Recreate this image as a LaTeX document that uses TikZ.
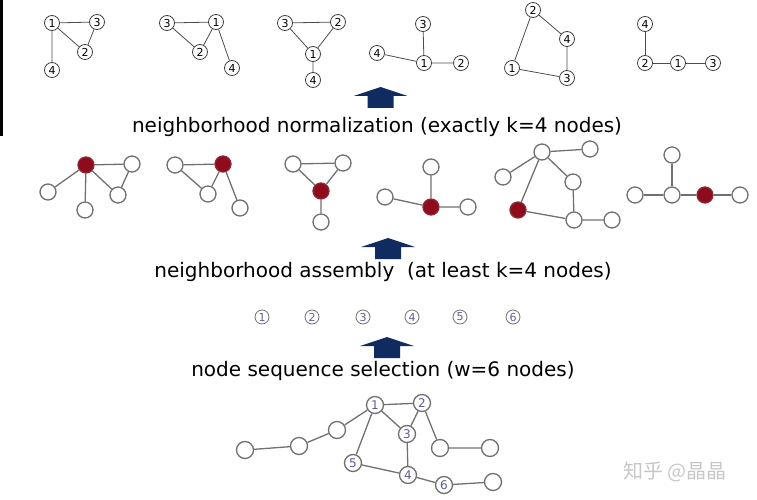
\documentclass[tikz,border=0pt]{standalone}
\usepackage{fontspec}
\setmainfont{DejaVu Sans}
\newfontfamily\cjkfont{Noto Sans CJK SC}
\definecolor{edgegray}{HTML}{707070}
\definecolor{nodered}{HTML}{8E0B1C}
\definecolor{arrowblue}{HTML}{0F2B5F}
\definecolor{digitblue}{HTML}{5E5E96}
% big upward arrow, tip at (#1,#2)
\newcommand\bigarrow[2]{%
  \fill[arrowblue] (#1,#2) -- ++(27,9) -- ++(-14,0) -- ++(0,12)
    -- ++(-26,0) -- ++(0,-12) -- ++(-14,0) -- cycle;}
\begin{document}
\begin{tikzpicture}[x=1pt,y=-1pt,
    numnode/.style={circle,draw=black!75,line width=0.8pt,minimum size=15pt,
      inner sep=0pt,fill=white,font=\fontsize{11}{11}\selectfont},
    topedge/.style={draw=black!70,line width=0.8pt},
    plainnode/.style={circle,draw=edgegray,line width=1.3pt,minimum size=16pt,
      inner sep=0pt,fill=white},
    rednode/.style={plainnode,fill=nodered,draw=nodered!75!gray},
    midedge/.style={draw=edgegray,line width=1.3pt},
    seqnode/.style={circle,draw=edgegray,line width=0.8pt,minimum size=14pt,
      inner sep=0pt,text=digitblue,font=\fontsize{11}{11}\selectfont},
    botnode/.style={plainnode,minimum size=17pt,text=digitblue,
      font=\fontsize{12}{12}\selectfont},
    caption/.style={font=\fontsize{20}{20}\selectfont}]
  \useasboundingbox (0,0) rectangle (757,500);
  \fill[black] (0,0) rectangle (3,136);

  % normalized neighborhoods
  \node[numnode] (a1) at (52,23) {1};
  \node[numnode] (a3) at (97,22) {3};
  \node[numnode] (a2) at (85,52) {2};
  \node[numnode] (a4) at (52,70) {4};
  \draw[topedge] (a1) -- (a3) (a1) -- (a2) (a2) -- (a3) (a1) -- (a4);

  \node[numnode] (b3) at (167,23) {3};
  \node[numnode] (b1) at (216,22) {1};
  \node[numnode] (b2) at (200,52) {2};
  \node[numnode] (b4) at (232,68) {4};
  \draw[topedge] (b3) -- (b1) (b3) -- (b2) (b2) -- (b1) (b1) -- (b4);

  \node[numnode] (c3) at (285,23) {3};
  \node[numnode] (c2) at (338,22) {2};
  \node[numnode] (c1) at (313,54) {1};
  \node[numnode] (c4) at (313,80) {4};
  \draw[topedge] (c3) -- (c2) (c3) -- (c1) (c2) -- (c1) (c1) -- (c4);

  \node[numnode] (d3) at (423,24) {3};
  \node[numnode] (d4) at (377,53) {4};
  \node[numnode] (d1) at (424,63) {1};
  \node[numnode] (d2) at (461,63) {2};
  \draw[topedge] (d3) -- (d1) (d4) -- (d1) (d1) -- (d2);

  \node[numnode] (e2) at (533,10) {2};
  \node[numnode] (e4) at (567,39) {4};
  \node[numnode] (e1) at (512,68) {1};
  \node[numnode] (e3) at (567,78) {3};
  \draw[topedge] (e2) -- (e1) (e2) -- (e4) (e4) -- (e3) (e1) -- (e3);

  \node[numnode] (f4) at (645,24) {4};
  \node[numnode] (f2) at (645,63) {2};
  \node[numnode] (f1) at (678,63) {1};
  \node[numnode] (f3) at (713,63) {3};
  \draw[topedge] (f4) -- (f2) (f2) -- (f1) (f1) -- (f3);

  \bigarrow{380.5}{87}
  \node[caption] (norm) at (377,127) {neighborhood normalization (exactly k=4 nodes)};

  % assembled neighborhoods
  \node[rednode]   (ga-r) at (86,165) {};
  \node[plainnode] (ga-1) at (132,164) {};
  \node[plainnode] (ga-2) at (48,192) {};
  \node[plainnode] (ga-3) at (85,210) {};
  \node[plainnode] (ga-4) at (118,195) {};
  \draw[midedge] (ga-r) -- (ga-1) (ga-r) -- (ga-2) (ga-r) -- (ga-3)
    (ga-r) -- (ga-4) (ga-4) -- (ga-1);

  \node[plainnode] (gb-1) at (175,165) {};
  \node[rednode]   (gb-r) at (223,164) {};
  \node[plainnode] (gb-2) at (208,194) {};
  \node[plainnode] (gb-3) at (240,208) {};
  \draw[midedge] (gb-1) -- (gb-r) (gb-1) -- (gb-2) (gb-2) -- (gb-r)
    (gb-r) -- (gb-3);

  \node[plainnode] (gc-1) at (293,164) {};
  \node[plainnode] (gc-2) at (343,163) {};
  \node[rednode]   (gc-r) at (321,191) {};
  \node[plainnode] (gc-3) at (321,222) {};
  \draw[midedge] (gc-1) -- (gc-2) (gc-1) -- (gc-r) (gc-2) -- (gc-r)
    (gc-r) -- (gc-3);

  \node[plainnode] (gd-1) at (431,167) {};
  \node[plainnode] (gd-2) at (385,197) {};
  \node[rednode]   (gd-r) at (431,207) {};
  \node[plainnode] (gd-3) at (468,207) {};
  \draw[midedge] (gd-1) -- (gd-r) (gd-2) -- (gd-r) (gd-r) -- (gd-3);

  \node[plainnode] (ge-1) at (542,152) {};
  \node[plainnode] (ge-2) at (590,149) {};
  \node[plainnode] (ge-3) at (503,177) {};
  \node[plainnode] (ge-4) at (573,182) {};
  \node[rednode]   (ge-r) at (518,210) {};
  \node[plainnode] (ge-5) at (574,220) {};
  \node[plainnode] (ge-6) at (612,220) {};
  \draw[midedge] (ge-1) -- (ge-2) (ge-1) -- (ge-3) (ge-1) -- (ge-r)
    (ge-1) -- (ge-4) (ge-4) -- (ge-5) (ge-r) -- (ge-5) (ge-5) -- (ge-6);

  \node[plainnode] (gf-1) at (672,155) {};
  \node[plainnode] (gf-2) at (635,195) {};
  \node[plainnode] (gf-3) at (672,195) {};
  \node[rednode]   (gf-r) at (705,195) {};
  \node[plainnode] (gf-4) at (740,195) {};
  \draw[midedge] (gf-1) -- (gf-3) (gf-2) -- (gf-3) (gf-3) -- (gf-r)
    (gf-r) -- (gf-4);

  \bigarrow{388}{238}
  \node[caption] (assem) at (383,272) {neighborhood assembly\ \ (at least k=4 nodes)};

  % selected node sequence
  \node[seqnode] (s1) at (262,317) {1};
  \node[seqnode] (s2) at (312,317) {2};
  \node[seqnode] (s3) at (363,317) {3};
  \node[seqnode] (s4) at (412,317) {4};
  \node[seqnode] (s5) at (460,317) {5};
  \node[seqnode] (s6) at (513,317) {6};

  \bigarrow{387}{337}
  \node[caption] (select) at (383,371) {node sequence selection (w=6 nodes)};

  % input graph
  \node[botnode] (v1) at (375,405) {1};
  \node[botnode] (v2) at (422,403) {2};
  \node[botnode] (v3) at (407,434) {3};
  \node[botnode] (v4) at (408,475) {4};
  \node[botnode] (v5) at (353,463) {5};
  \node[botnode] (v6) at (444,485) {6};
  \node[botnode] (w1) at (337,430) {};
  \node[botnode] (w2) at (299,446) {};
  \node[botnode] (w3) at (245,450) {};
  \node[botnode] (w4) at (440,448) {};
  \node[botnode] (w5) at (490,448) {};
  \node[botnode] (w6) at (493,482) {};
  \draw[midedge] (w3) -- (w2) (w2) -- (w1) (w1) -- (v1) (v1) -- (v2)
    (v1) -- (v3) (v2) -- (v3) (v2) -- (w4) (w4) -- (w5) (v1) -- (v5)
    (v3) -- (v4) (v5) -- (v4) (v4) -- (v6) (v6) -- (w6);

  \node[text=black!22,font=\cjkfont\fontsize{20}{20}\selectfont] (mark)
    at (675,472) {知乎 @晶晶};
\end{tikzpicture}
\end{document}
